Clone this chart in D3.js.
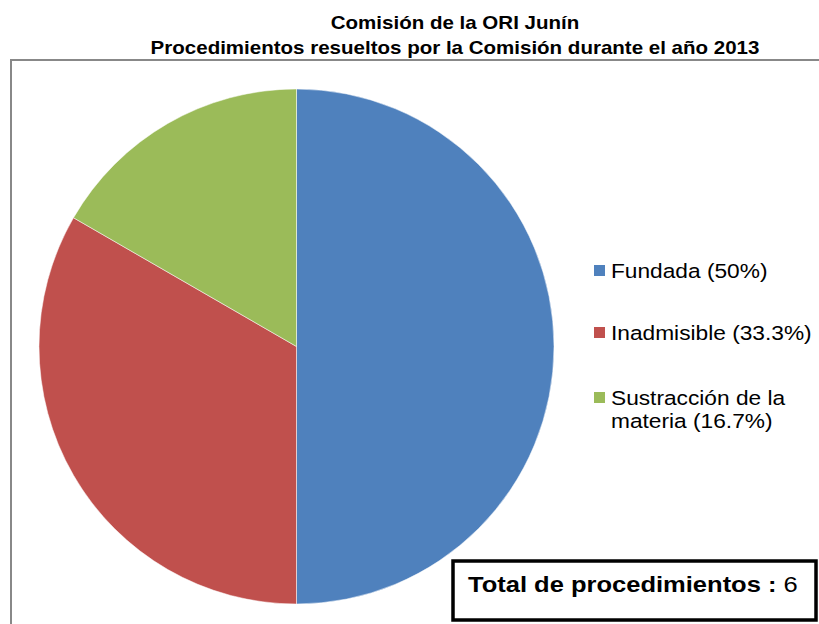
<!DOCTYPE html>
<html><head><meta charset="utf-8">
<script src="https://cdn.jsdelivr.net/npm/d3@7"></script>
<style>html,body{margin:0;padding:0;background:#fff;overflow:hidden}</style>
</head><body>
<svg id="c" width="819" height="624"></svg>
<script>
const titleLines = ["Comisión de la ORI Junín", "Procedimientos resueltos por la Comisión durante el año 2013"];
const categories = ["Fundada", "Inadmisible", "Sustracción de la materia"];
const values = [3, 2, 1];
const percentLabels = ["50%", "33.3%", "16.7%"];
const legendLines = [["Fundada (50%)"], ["Inadmisible (33.3%)"], ["Sustracción de la", "materia (16.7%)"]];
const colors = ["#4F81BD", "#C0504D", "#9BBB59"];
const totalLabel = "Total de procedimientos : ";
const totalValue = d3.sum(values);

const svg = d3.select("#c");
const font = "Arial, 'Liberation Sans', sans-serif";

// frame
svg.append("rect").attr("x", 11).attr("y", 60).attr("width", 900).attr("height", 700)
  .attr("fill", "none").attr("stroke", "#888").attr("stroke-width", 2);

// title
const tY = [29, 54];
titleLines.forEach((t, i) => {
  svg.append("text").attr("transform", `translate(455,${tY[i]}) scale(1.14,1)`)
    .attr("text-anchor", "middle").attr("font-family", font).attr("font-weight", "bold")
    .attr("font-size", 18).attr("fill", "#000").text(t);
});

// pie
const cx = 296.5, cy = 346.5, r = 257.5;
const pie = d3.pie().sort(null).value(d => d);
const arc = d3.arc().innerRadius(0).outerRadius(r);
svg.append("g").attr("transform", `translate(${cx},${cy})`)
  .selectAll("path").data(pie(values)).join("path")
  .attr("d", arc).attr("fill", (d, i) => colors[i])
  .attr("stroke", "rgba(255,255,255,0.5)").attr("stroke-width", 1);

// legend
const legY = [278, 340, 405];
const lg = svg.append("g");
legendLines.forEach((lines, i) => {
  lg.append("rect").attr("x", 594).attr("y", legY[i] - 13).attr("width", 11).attr("height", 11)
    .attr("fill", colors[i]);
  lines.forEach((ln, j) => {
    lg.append("text").attr("transform", `translate(611,${legY[i] + j * 23}) scale(1.165,1)`)
      .attr("font-family", font).attr("font-size", 19.5).attr("fill", "#000").text(ln);
  });
});

// total box
svg.append("rect").attr("x", 453).attr("y", 561).attr("width", 363).attr("height", 59)
  .attr("fill", "#fff").attr("stroke", "#000").attr("stroke-width", 3.5);
const tt = svg.append("text").attr("transform", "translate(468,592) scale(1.16,1)")
  .attr("font-family", font).attr("font-size", 22).attr("fill", "#000");
tt.append("tspan").attr("font-weight", "bold").text(totalLabel);
tt.append("tspan").text(totalValue);
</script>
</body></html>
